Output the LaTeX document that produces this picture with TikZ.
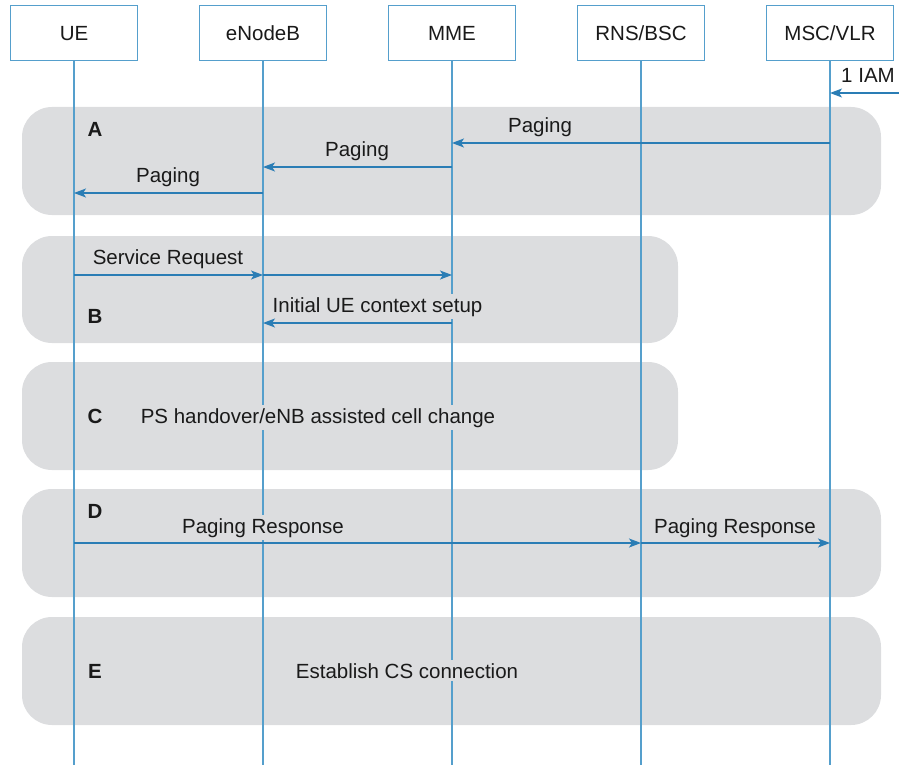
\documentclass[tikz,border=0pt]{standalone}
\usepackage{fontspec}
\setmainfont{Liberation Sans}
\usetikzlibrary{arrows.meta}
\definecolor{lifeblue}{HTML}{559FCC}
\definecolor{arrowblue}{HTML}{2A7DB5}
\definecolor{regiongray}{HTML}{DCDDDF}
\definecolor{txt}{HTML}{1A1A1A}
\begin{document}
\begin{tikzpicture}[x=1pt,y=-1pt,
  every node/.style={font=\fontsize{20.5}{24}\selectfont, text=txt},
  header/.style={draw=lifeblue, line width=1pt, fill=white, minimum width=127pt, minimum height=55pt, inner sep=0pt},
  lifeline/.style={draw=lifeblue, line width=1.1pt},
  region/.style={fill=regiongray, rounded corners=30pt},
  msg/.style={draw=arrowblue, line width=1.2pt, -{Stealth[length=12pt,width=9pt,inset=3pt]}},
  lbl/.style={fill=regiongray, inner xsep=2pt, inner ysep=3pt, anchor=base},
  plainlbl/.style={inner sep=1pt, anchor=base},
  tag/.style={font=\fontsize{20.5}{24}\selectfont\bfseries, anchor=base, inner sep=1pt},
]
\useasboundingbox (0,0) rectangle (899,765);

% regions
\fill[region] (22,107) rectangle (881,215);
\fill[region] (22,236) rectangle (678,343);
\fill[region] (22,362) rectangle (678,470);
\fill[region] (22,489) rectangle (881,597);
\fill[region] (22,617) rectangle (881,725);

% headers
\node[header] (ue)  at (74,33.5)  {UE};
\node[header] (enb) at (263,33.5) {eNodeB};
\node[header] (mme) at (452,33.5) {MME};
\node[header] (rns) at (641,33.5) {RNS/BSC};
\node[header] (msc) at (830,33.5) {MSC/VLR};

% lifelines
\coordinate (ue-end)  at (74,765);
\coordinate (enb-end) at (263,765);
\coordinate (mme-end) at (452,765);
\coordinate (rns-end) at (641,765);
\coordinate (msc-end) at (830,765);
\draw[lifeline] (ue.south)  -- (ue-end);
\draw[lifeline] (enb.south) -- (enb-end);
\draw[lifeline] (mme.south) -- (mme-end);
\draw[lifeline] (rns.south) -- (rns-end);
\draw[lifeline] (msc.south) -- (msc-end);

% message anchor points
\coordinate (iam-in) at (899,93);
\coordinate (msc-iam) at (830,93);
\coordinate (msc-a1) at (830,143);
\coordinate (mme-a1) at (452,143);
\coordinate (mme-a2) at (452,167);
\coordinate (enb-a2) at (263,167);
\coordinate (enb-a3) at (263,193);
\coordinate (ue-a3)  at (74,193);
\coordinate (ue-b1)  at (74,275);
\coordinate (enb-b1) at (263,275);
\coordinate (mme-b1) at (452,275);
\coordinate (mme-b2) at (452,323);
\coordinate (enb-b2) at (263,323);
\coordinate (ue-d1)  at (74,543);
\coordinate (rns-d1) at (641,543);
\coordinate (msc-d1) at (830,543);

% labels
\node[plainlbl] (iamlbl) at (868,83) {1 IAM};
\node[tag] (tA) at (95,136) {A};
\node[lbl] (pg1) at (540,132) {Paging};
\node[lbl] (pg2) at (357,157) {Paging};
\node[lbl] (pg3) at (168,182) {Paging};
\node[lbl] (sr) at (168,264) {Service Request};
\node[lbl] (iuc) at (377.5,312) {Initial UE context setup};
\node[tag] (tB) at (95,323) {B};
\node[tag] (tC) at (95,423) {C};
\node[lbl] (psh) at (318,423) {PS handover/eNB assisted cell change};
\node[tag] (tD) at (95,518) {D};
\node[lbl] (pr1) at (263,533) {Paging Response};
\node[lbl] (pr2) at (735,533) {Paging Response};
\node[tag] (tE) at (95,678) {E};
\node[lbl] (ecs) at (407,678) {Establish CS connection};

% messages
\draw[msg] (iam-in) -- (msc-iam);
\draw[msg] (msc-a1) -- (mme-a1);
\draw[msg] (mme-a2) -- (enb-a2);
\draw[msg] (enb-a3) -- (ue-a3);
\draw[msg] (ue-b1) -- (enb-b1);
\draw[msg] (enb-b1) -- (mme-b1);
\draw[msg] (mme-b2) -- (enb-b2);
\draw[msg] (ue-d1) -- (rns-d1);
\draw[msg] (rns-d1) -- (msc-d1);
\end{tikzpicture}
\end{document}
